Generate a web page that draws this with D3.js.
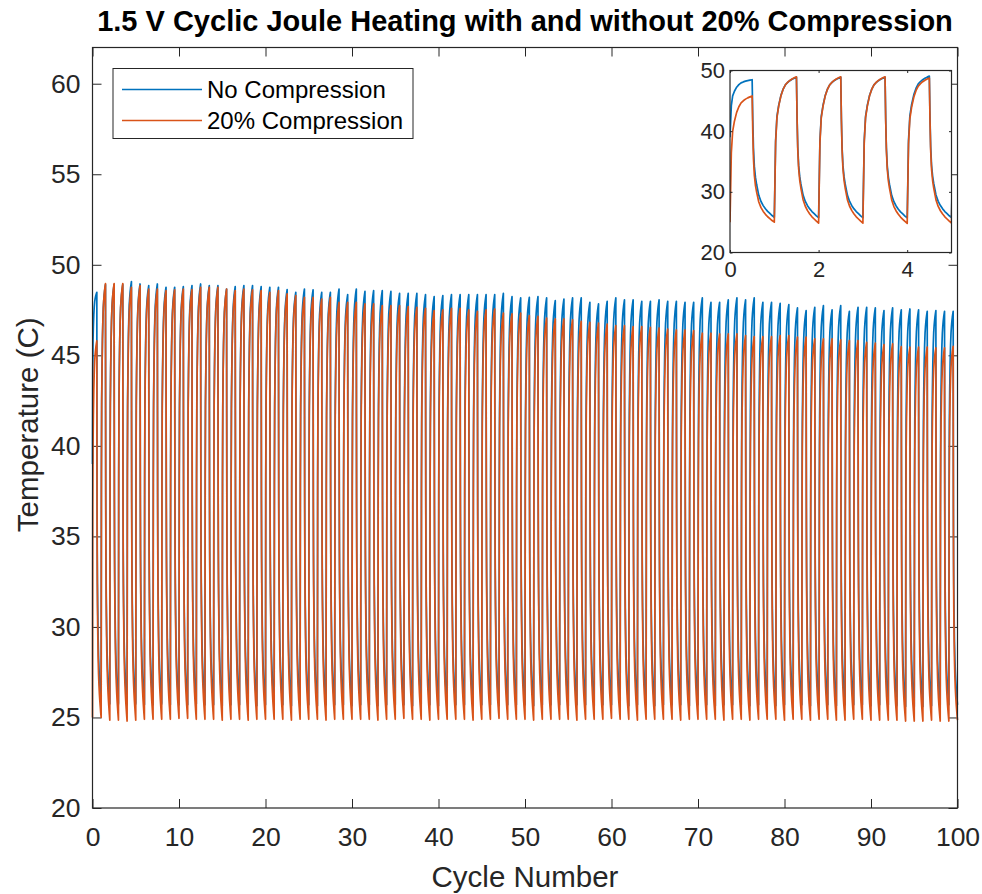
<!DOCTYPE html>
<html>
<head>
<meta charset="utf-8">
<script src="https://cdn.jsdelivr.net/npm/d3@7"></script>
<style>
  body { margin: 0; background: #fff; }
  text { font-family: "Liberation Sans", Arial, Helvetica, sans-serif; }
</style>
</head>
<body>
<svg id="chart" width="982" height="894"></svg>
<script>
// ---- Data -----------------------------------------------------------------
const seriesNames = ["No Compression", "20% Compression"];
const seriesColors = ["#0072BD", "#D95319"];

// Temperature (C) at the start of the run
const startNoComp = 39.0;
const startComp = 25.0;

// Peak temperature reached at the end of each heating half-cycle (cycles 0..99)
const peaksNoComp = [
  48.48, 48.90, 48.90, 48.90, 49.07, 48.94, 48.85, 48.94, 48.76, 48.76,
  48.79, 48.85, 48.94, 48.85, 48.85, 48.66, 48.79, 48.85, 48.85, 48.79,
  48.76, 48.76, 48.63, 48.48, 48.66, 48.61, 48.48, 48.48, 48.66, 48.35,
  48.66, 48.53, 48.57, 48.57, 48.53, 48.42, 48.42, 48.42, 48.35, 48.24,
  48.30, 48.35, 48.35, 48.35, 48.35, 48.35, 48.35, 48.42, 48.24, 48.17,
  48.20, 48.24, 48.17, 48.02, 48.10, 48.17, 48.17, 47.93, 47.84, 47.98,
  48.17, 48.06, 48.06, 47.98, 47.98, 48.06, 47.98, 47.98, 47.93, 47.93,
  48.17, 47.93, 47.93, 48.06, 48.17, 48.06, 48.17, 47.93, 47.93, 47.87,
  47.80, 47.62, 47.47, 47.65, 47.74, 47.51, 47.74, 47.43, 47.65, 47.65,
  47.62, 47.47, 47.62, 47.51, 47.56, 47.51, 47.43, 47.47, 47.43, 47.43
];
const peaksComp = [
  45.80, 48.96, 48.96, 48.96, 48.75, 48.85, 48.66, 48.66, 48.57, 48.61,
  48.66, 48.63, 48.76, 48.76, 48.76, 48.66, 48.57, 48.66, 48.61, 48.57,
  48.48, 48.57, 48.39, 48.30, 48.20, 48.20, 48.11, 48.20, 47.93, 47.93,
  47.93, 47.84, 47.84, 47.74, 47.74, 47.74, 47.69, 47.65, 47.60, 47.47,
  47.51, 47.60, 47.60, 47.51, 47.43, 47.51, 47.56, 47.33, 47.29, 47.33,
  47.20, 47.15, 47.06, 47.01, 47.01, 46.96, 46.88, 46.82, 46.78, 46.73,
  46.64, 46.64, 46.59, 46.59, 46.55, 46.51, 46.45, 46.40, 46.40, 46.36,
  46.22, 46.22, 46.18, 46.18, 46.18, 46.09, 46.03, 46.03, 46.03, 46.09,
  46.09, 46.00, 46.00, 45.91, 45.91, 45.91, 45.85, 45.82, 45.82, 45.72,
  45.67, 45.59, 45.63, 45.48, 45.45, 45.45, 45.45, 45.41, 45.41, 45.50
];

// Lowest temperature reached at the end of each cooling half-cycle
const troughsNoComp = [
  25.80, 25.75, 25.75, 25.70, 25.75, 25.70, 25.70, 25.75, 25.70, 25.70,
  25.70, 25.75, 25.70, 25.70, 25.65, 25.70, 25.70, 25.70, 25.65, 25.70,
  25.70, 25.70, 25.65, 25.70, 25.70, 25.65, 25.70, 25.70, 25.70, 25.65,
  25.70, 25.70, 25.65, 25.70, 25.70, 25.70, 25.65, 25.70, 25.70, 25.65,
  25.70, 25.70, 25.70, 25.65, 25.70, 25.70, 25.65, 25.70, 25.70, 25.70,
  25.65, 25.70, 25.70, 25.70, 25.65, 25.70, 25.70, 25.65, 25.70, 25.70,
  25.70, 25.65, 25.70, 25.70, 25.65, 25.70, 25.70, 25.70, 25.65, 25.70,
  25.70, 25.65, 25.70, 25.70, 25.70, 25.65, 25.70, 25.70, 25.65, 25.70,
  25.70, 25.70, 25.65, 25.70, 25.70, 25.65, 25.70, 25.70, 25.70, 25.65,
  25.70, 25.70, 25.65, 25.60, 25.60, 25.60, 25.65, 25.65, 25.70, 25.70
];
const troughsComp = [
  25.00, 24.85, 24.85, 24.80, 24.85, 24.90, 24.90, 24.90, 24.90, 24.95,
  24.95, 24.90, 24.90, 24.90, 24.85, 24.90, 24.90, 24.85, 24.90, 24.90,
  24.90, 24.90, 24.85, 24.90, 24.90, 24.90, 24.85, 24.90, 24.90, 24.90,
  24.90, 24.90, 24.85, 24.90, 24.90, 24.95, 24.90, 24.90, 24.85, 24.90,
  24.90, 24.90, 24.90, 24.85, 24.90, 24.90, 24.95, 24.90, 24.90, 24.90,
  24.85, 24.90, 24.90, 24.90, 24.90, 24.85, 24.90, 24.90, 24.90, 24.95,
  24.90, 24.90, 24.85, 24.90, 24.90, 24.90, 24.90, 24.85, 24.90, 24.90,
  24.90, 24.90, 24.85, 24.90, 24.90, 24.85, 24.90, 24.90, 24.90, 24.85,
  24.90, 24.90, 24.85, 24.90, 24.90, 24.85, 24.85, 24.90, 24.90, 24.85,
  24.85, 24.85, 24.85, 24.80, 24.80, 24.80, 24.85, 24.80, 24.80, 24.85
];

// Response within one cycle: fraction of the swing covered at each phase
const heatPhase = [0, 0.03, 0.06, 0.10, 0.15, 0.20, 0.25, 0.30, 0.35, 0.40, 0.45, 0.50];
const heatFrac  = [0, 0.55, 0.72, 0.80, 0.87, 0.915, 0.945, 0.962, 0.975, 0.985, 0.993, 1];
const coolPhase = [0.50, 0.515, 0.53, 0.55, 0.575, 0.60, 0.65, 0.70, 0.75, 0.80, 0.85, 0.90, 0.95, 1.00];
const coolFrac  = [1, 0.70, 0.50, 0.37, 0.29, 0.24, 0.16, 0.115, 0.085, 0.062, 0.043, 0.028, 0.013, 0];

const xTicks = [0, 10, 20, 30, 40, 50, 60, 70, 80, 90, 100];
const yTicks = [20, 25, 30, 35, 40, 45, 50, 55, 60];
const insetXTicks = [0, 2, 4];
const insetYTicks = [20, 30, 40, 50];

// ---- Build the time series (cycle number vs temperature) -------------------
function buildSeries(start, peaks, troughs) {
  const pts = [[0, start]];
  let prev = start;
  peaks.forEach((pk, k) => {
    heatPhase.forEach((p, i) => {
      if (i === 0) return;
      pts.push([k + p, prev + heatFrac[i] * (pk - prev)]);
    });
    const tr = troughs[k];
    coolPhase.forEach((p, i) => {
      if (i === 0) return;
      pts.push([k + p, tr + coolFrac[i] * (pk - tr)]);
    });
    prev = tr;
  });
  return pts;
}
const series = [
  buildSeries(startNoComp, peaksNoComp, troughsNoComp),
  buildSeries(startComp, peaksComp, troughsComp)
];

// ---- Layout ---------------------------------------------------------------
const svg = d3.select("#chart");
const axisColor = "#262626";
const main = { left: 92.5, right: 957.5, top: 47.5, bottom: 808 };
const x = d3.scaleLinear().domain([0, 100]).range([main.left, main.right]);
const y = d3.scaleLinear().domain([20, 62]).range([main.bottom, main.top]);
const plain = d3.format("d");

function styleAxis(g, fontSize) {
  g.select(".domain").remove();
  g.selectAll(".tick line").attr("stroke", axisColor).attr("stroke-width", 1);
  g.selectAll(".tick text").attr("fill", axisColor).attr("font-size", fontSize);
}

// Main axes: ticks point inward on all four sides
svg.append("g").attr("transform", `translate(0,${main.bottom})`)
  .call(d3.axisBottom(x).tickValues(xTicks).tickFormat(plain).tickSize(-9).tickPadding(19))
  .call(g => styleAxis(g, 26.5));
svg.append("g").attr("transform", `translate(0,${main.top})`)
  .call(d3.axisTop(x).tickValues(xTicks).tickSize(-9).tickFormat(""))
  .call(g => styleAxis(g, 26.5));
svg.append("g").attr("transform", `translate(${main.left},0)`)
  .call(d3.axisLeft(y).tickValues(yTicks).tickFormat(plain).tickSize(-9).tickPadding(12))
  .call(g => styleAxis(g, 26.5));
svg.append("g").attr("transform", `translate(${main.right},0)`)
  .call(d3.axisRight(y).tickValues(yTicks).tickSize(-9).tickFormat(""))
  .call(g => styleAxis(g, 26.5));

const line = d3.line().x(d => x(d[0])).y(d => y(d[1]));
svg.append("g").selectAll("path").data(series).join("path")
  .attr("d", line)
  .attr("fill", "none")
  .attr("stroke", (d, i) => seriesColors[i])
  .attr("stroke-width", 1.7)
  .attr("stroke-linejoin", "round");

svg.append("rect")
  .attr("x", main.left).attr("y", main.top)
  .attr("width", main.right - main.left).attr("height", main.bottom - main.top)
  .attr("fill", "none").attr("stroke", axisColor).attr("stroke-width", 1.2);

// Title and axis labels
svg.append("text").attr("x", (main.left + main.right) / 2).attr("y", 31)
  .attr("text-anchor", "middle").attr("font-size", 29).attr("font-weight", "bold")
  .attr("fill", "#000").text("1.5 V Cyclic Joule Heating with and without 20% Compression");
svg.append("text").attr("x", (main.left + main.right) / 2).attr("y", 887)
  .attr("text-anchor", "middle").attr("font-size", 29.5).attr("fill", axisColor)
  .text("Cycle Number");
svg.append("text").attr("transform", `translate(38,${(main.top + main.bottom) / 2 - 3}) rotate(-90)`)
  .attr("text-anchor", "middle").attr("font-size", 29.5).attr("fill", axisColor)
  .text("Temperature (C)");

// Legend
const legend = svg.append("g");
legend.append("rect").attr("x", 113).attr("y", 68.5).attr("width", 300).attr("height", 70)
  .attr("fill", "#fff").attr("stroke", axisColor).attr("stroke-width", 1);
const rows = legend.selectAll("g.row").data(seriesNames).join("g")
  .attr("class", "row")
  .attr("transform", (d, i) => `translate(0,${89.5 + i * 31})`);
rows.append("line").attr("x1", 122).attr("x2", 202).attr("y1", 0).attr("y2", 0)
  .attr("stroke", (d, i) => seriesColors[i]).attr("stroke-width", 1.5);
rows.append("text").attr("x", 207).attr("y", 0).attr("dy", "0.35em")
  .attr("font-size", 24).attr("fill", "#000").text(d => d);

// Inset: first five cycles
const inset = { left: 730, right: 951.5, top: 70.5, bottom: 252.5 };
const xi = d3.scaleLinear().domain([0, 5]).range([inset.left, inset.right]);
const yi = d3.scaleLinear().domain([20, 50]).range([inset.bottom, inset.top]);
svg.append("rect")
  .attr("x", inset.left).attr("y", inset.top)
  .attr("width", inset.right - inset.left).attr("height", inset.bottom - inset.top)
  .attr("fill", "#fff");
svg.append("clipPath").attr("id", "insetClip").append("rect")
  .attr("x", inset.left).attr("y", inset.top)
  .attr("width", inset.right - inset.left).attr("height", inset.bottom - inset.top);
const lineInset = d3.line().x(d => xi(d[0])).y(d => yi(d[1]));
svg.append("g").attr("clip-path", "url(#insetClip)")
  .selectAll("path").data(series.map(s => s.filter(d => d[0] <= 5.2))).join("path")
  .attr("d", lineInset)
  .attr("fill", "none")
  .attr("stroke", (d, i) => seriesColors[i])
  .attr("stroke-width", 1.7)
  .attr("stroke-linejoin", "round");

svg.append("g").attr("transform", `translate(0,${inset.bottom})`)
  .call(d3.axisBottom(xi).tickValues(insetXTicks).tickFormat(plain).tickSize(-2.5).tickPadding(9))
  .call(g => styleAxis(g, 22));
svg.append("g").attr("transform", `translate(0,${inset.top})`)
  .call(d3.axisTop(xi).tickValues(insetXTicks).tickSize(-2.5).tickFormat(""))
  .call(g => styleAxis(g, 22));
svg.append("g").attr("transform", `translate(${inset.left},0)`)
  .call(d3.axisLeft(yi).tickValues(insetYTicks).tickFormat(plain).tickSize(-2.5).tickPadding(5))
  .call(g => styleAxis(g, 22));
svg.append("g").attr("transform", `translate(${inset.right},0)`)
  .call(d3.axisRight(yi).tickValues(insetYTicks).tickSize(-2.5).tickFormat(""))
  .call(g => styleAxis(g, 22));
svg.append("rect")
  .attr("x", inset.left).attr("y", inset.top)
  .attr("width", inset.right - inset.left).attr("height", inset.bottom - inset.top)
  .attr("fill", "none").attr("stroke", axisColor).attr("stroke-width", 1.2);
</script>
</body>
</html>
